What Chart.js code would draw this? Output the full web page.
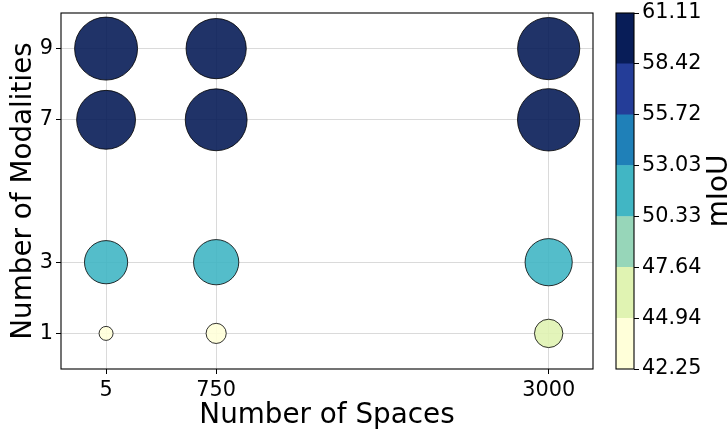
<!DOCTYPE html>
<html>
<head>
<meta charset="utf-8">
<script src="https://cdn.jsdelivr.net/npm/chart.js@4"></script>
<style>
  html, body { margin: 0; padding: 0; background: #fff; }
  #wrap { position: relative; width: 728px; height: 430px; overflow: hidden; }
  canvas { position: absolute; top: 0; }
  #main { left: 0; }
  #cbar { left: 600px; }
</style>
</head>
<body>
<div id="wrap">
  <canvas id="main" width="600" height="430"></canvas>
  <canvas id="cbar" width="128" height="430"></canvas>
</div>
<script>
// Grid of experiments: number of spaces (x) vs number of modalities (y)
const spaces = [5, 750, 3000];
const modalities = [1, 3, 7, 9];

// mIoU for each modality count, one value per entry of `spaces`
const miouMod1 = [42.25, 43.30, 45.30];
const miouMod3 = [50.60, 51.50, 52.40];
const miouMod7 = [58.60, 60.40, 60.70];
const miouMod9 = [61.11, 59.40, 60.60];

// Colour bar boundaries (tick labels) and the YlGnBu bin colours between them
const colorbarTicks = [42.25, 44.94, 47.64, 50.33, 53.03, 55.72, 58.42, 61.11];
const binColors = ['#ffffd9', '#e0f3b2', '#97d6b9', '#41b6c4', '#1f80b8', '#243d98', '#081d58'];

const FONT = "'DejaVu Sans', sans-serif";
const TICK_SIZE = 20.8;
const TITLE_SIZE = 27.8;

function binColor(v) {
  for (let i = 0; i < binColors.length; i++) {
    if (v < colorbarTicks[i + 1]) return binColors[i];
  }
  return binColors[binColors.length - 1];
}
function withAlpha(hex, a) {
  const n = parseInt(hex.slice(1), 16);
  return `rgba(${(n >> 16) & 255},${(n >> 8) & 255},${n & 255},${a})`;
}
// marker area grows linearly with mIoU
function bubbleRadius(v) {
  return Math.sqrt(49 + 50.0 * (v - colorbarTicks[0]));
}

const rows = [miouMod1, miouMod3, miouMod7, miouMod9];
const points = [];
const fills = [];
rows.forEach((row, j) => {
  row.forEach((v, i) => {
    points.push({ x: spaces[i], y: modalities[j], r: bubbleRadius(v), v });
    fills.push(withAlpha(binColor(v), 0.9));
  });
});

// full black box around a chart area
const frame = {
  id: 'frame',
  afterDraw(chart) {
    const { ctx, chartArea: a } = chart;
    ctx.save();
    ctx.strokeStyle = '#000';
    ctx.lineWidth = 1.1;
    ctx.strokeRect(a.left, a.top, a.right - a.left, a.bottom - a.top);
    ctx.restore();
  }
};

// fixed axis box sizes, no extra room reserved for overhanging labels
function fixSize(prop, size) {
  return s => {
    s[prop] = size;
    s.paddingLeft = s.paddingRight = s.paddingTop = s.paddingBottom = 0;
  };
}

const gridStyle = {
  color: 'rgba(176,176,176,0.6)',
  lineWidth: 0.8,
  borderDash: [3, 2],
  tickColor: '#000',
  tickLength: 5,
  tickWidth: 1,
  tickBorderDash: []
};

new Chart(document.getElementById('main'), {
  type: 'bubble',
  data: {
    datasets: [{
      data: points,
      backgroundColor: fills,
      borderColor: 'rgba(0,0,0,0.8)',
      borderWidth: 1,
      hoverRadius: 0
    }]
  },
  options: {
    responsive: false,
    animation: false,
    events: [],
    layout: { autoPadding: false, padding: { top: 13, right: 7, left: 0, bottom: 0 } },
    plugins: { legend: { display: false }, tooltip: { enabled: false } },
    scales: {
      x: {
        type: 'linear',
        min: -300,
        max: 3300,
        afterBuildTicks: s => { s.ticks = spaces.map(v => ({ value: v })); },
        afterFit: fixSize('height', 61),
        ticks: {
          font: { family: FONT, size: TICK_SIZE }, color: '#000', padding: 4, maxRotation: 0, autoSkip: false,
          callback: v => String(v)
        },
        grid: gridStyle,
        border: { display: false },
        title: {
          display: true, text: 'Number of Spaces', color: '#000',
          font: { family: FONT, size: TITLE_SIZE, lineHeight: 1 },
          padding: { top: 0, bottom: 0 }
        }
      },
      y: {
        type: 'linear',
        min: 0,
        max: 10,
        afterBuildTicks: s => { s.ticks = modalities.map(v => ({ value: v })); },
        afterFit: fixSize('width', 61),
        ticks: { font: { family: FONT, size: TICK_SIZE }, color: '#000', padding: 3, autoSkip: false },
        grid: gridStyle,
        border: { display: false },
        title: {
          display: true, text: 'Number of Modalities', color: '#000',
          font: { family: FONT, size: TITLE_SIZE, lineHeight: 1 },
          padding: { top: 10, bottom: 0 }
        }
      }
    }
  },
  plugins: [frame]
});

// rotated colour bar label, reading bottom to top
const cbarLabel = {
  id: 'cbarLabel',
  afterDraw(chart) {
    const { ctx, chartArea: a } = chart;
    ctx.save();
    ctx.translate(127, (a.top + a.bottom) / 2);
    ctx.rotate(-Math.PI / 2);
    ctx.font = `${TITLE_SIZE}px ${FONT}`;
    ctx.fillStyle = '#000';
    ctx.textAlign = 'center';
    ctx.textBaseline = 'alphabetic';
    ctx.fillText('mIoU', 0, 0);
    ctx.restore();
  }
};

new Chart(document.getElementById('cbar'), {
  type: 'bar',
  data: {
    labels: [''],
    datasets: binColors.map((c, i) => ({
      data: [[colorbarTicks[i], colorbarTicks[i + 1]]],
      backgroundColor: c,
      borderWidth: 0,
      grouped: false,
      barPercentage: 1,
      categoryPercentage: 1
    }))
  },
  options: {
    responsive: false,
    animation: false,
    events: [],
    layout: { autoPadding: false, padding: { left: 16, top: 13, bottom: 61, right: 0 } },
    plugins: { legend: { display: false }, tooltip: { enabled: false } },
    scales: {
      x: { display: false },
      y: {
        type: 'linear',
        position: 'right',
        min: colorbarTicks[0],
        max: colorbarTicks[colorbarTicks.length - 1],
        afterBuildTicks: s => { s.ticks = colorbarTicks.map(v => ({ value: v })); },
        afterFit: fixSize('width', 94),
        ticks: {
          font: { family: FONT, size: TICK_SIZE }, color: '#000', padding: 3, autoSkip: false,
          callback: v => v.toFixed(2)
        },
        grid: { drawOnChartArea: false, tickColor: '#000', tickLength: 5, tickWidth: 1 },
        border: { display: false }
      }
    }
  },
  plugins: [frame, cbarLabel]
});
</script>
</body>
</html>
